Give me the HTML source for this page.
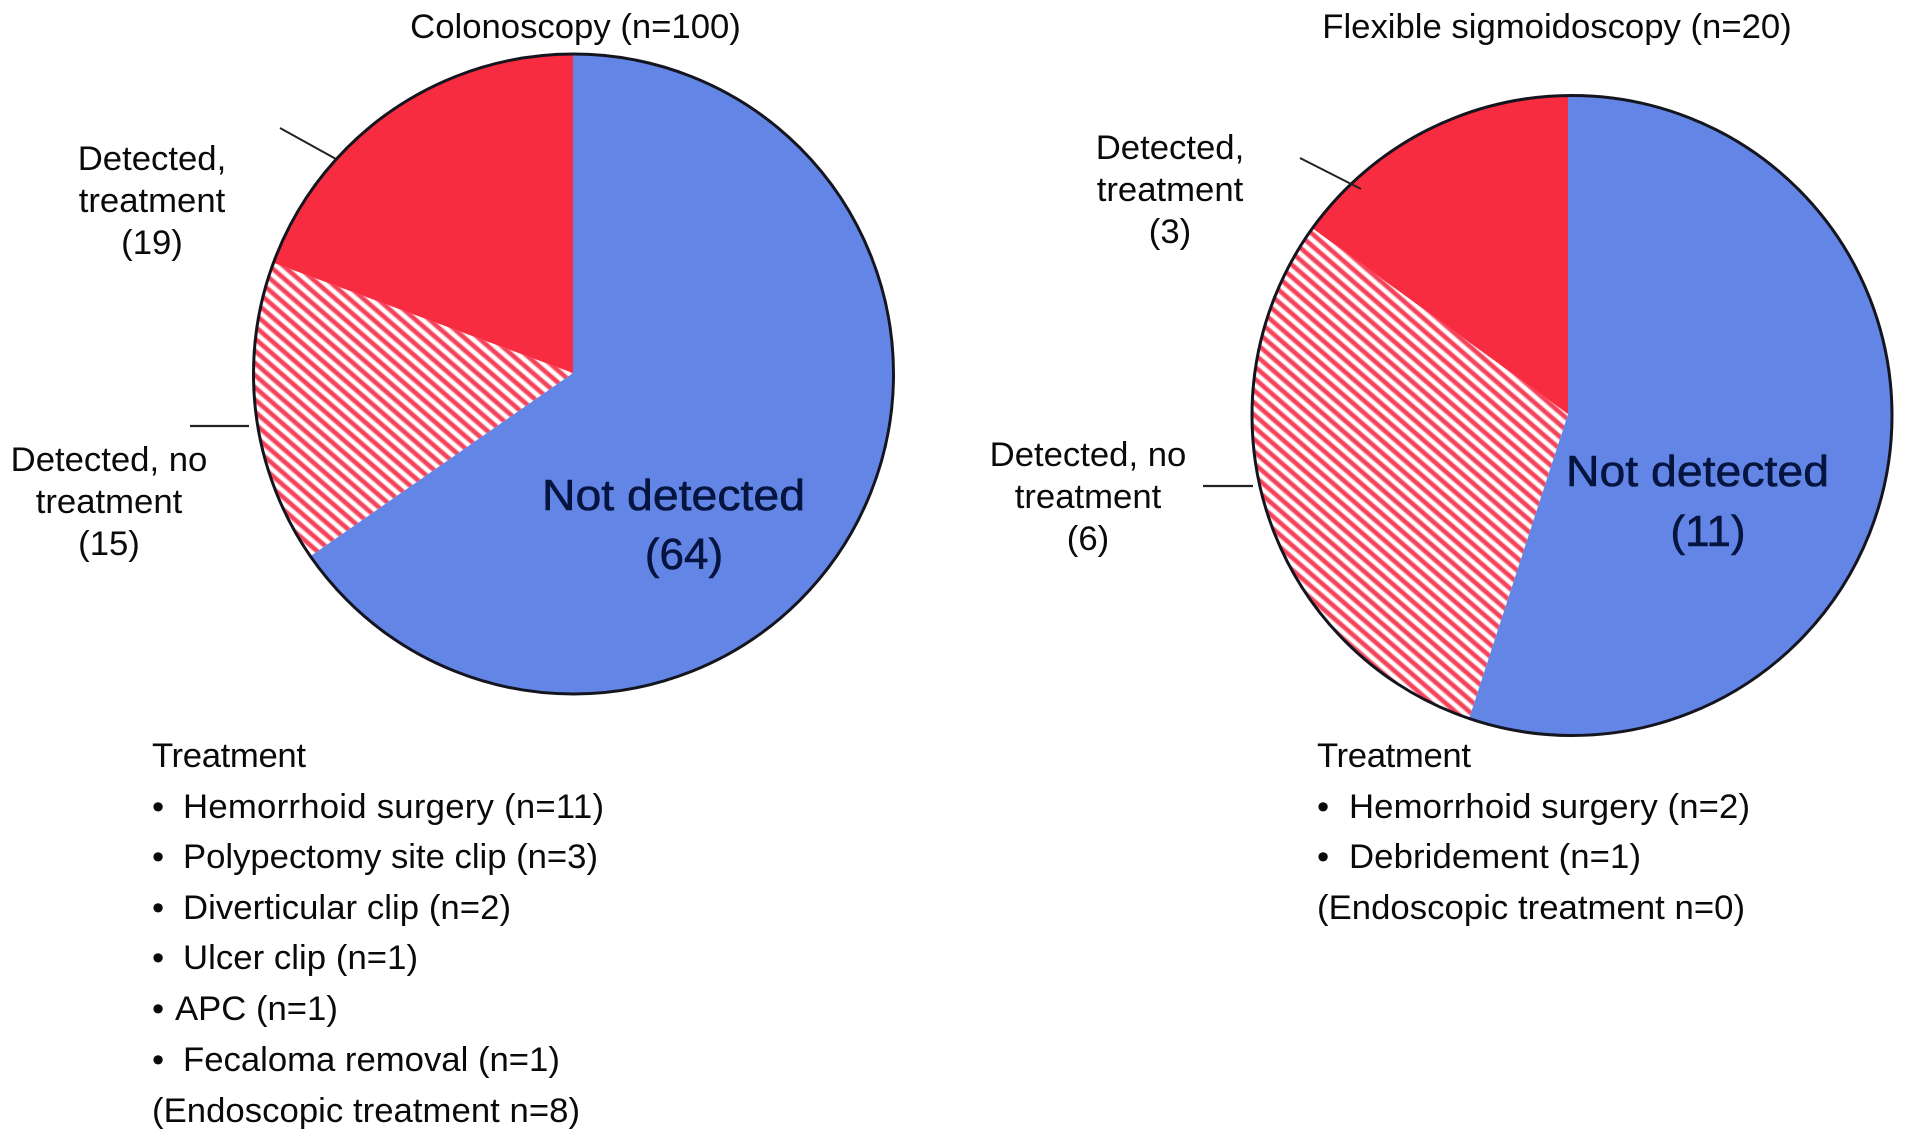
<!DOCTYPE html>
<html lang="en">
<head>
<meta charset="utf-8">
<title>Detection and treatment pie charts</title>
<style>
  html, body { margin: 0; padding: 0; background: #fff; }
  svg { display: block; font-family: "Liberation Sans", Arial, sans-serif; }
  text { fill: #0a0a0a; font-size: 34.7px; }
  .big { font-size: 44px; fill: #05153f; stroke: #05153f; stroke-width: 0.6px; }
</style>
</head>
<body>
<svg id="chart" xmlns="http://www.w3.org/2000/svg" width="1914" height="1141" viewBox="0 0 1914 1141">
  <defs>
    <linearGradient id="stripe" x1="0" y1="0" x2="0" y2="1">
      <stop offset="0" stop-color="#ffffff"></stop>
      <stop offset="0.24" stop-color="#ffffff"></stop>
      <stop offset="0.45" stop-color="#f4425a"></stop>
      <stop offset="0.74" stop-color="#f4425a"></stop>
      <stop offset="0.96" stop-color="#ffffff"></stop>
      <stop offset="1" stop-color="#ffffff"></stop>
    </linearGradient>
    <pattern id="hatch" patternUnits="userSpaceOnUse" width="9.2" height="9.2" patternTransform="rotate(41)">
      <rect width="9.2" height="9.2" fill="url(#stripe)"></rect>
    </pattern>
  </defs>
  <rect width="1914" height="1141" fill="#fff"></rect>

  <text x="575.5" y="38" text-anchor="middle">Colonoscopy (n=100)</text>
  <text x="1557" y="38" text-anchor="middle">Flexible sigmoidoscopy (n=20)</text>

  <g id="pies"></g>

  <line x1="280" y1="128" x2="336" y2="159" stroke="#222" stroke-width="2"></line>
  <line x1="190" y1="426" x2="249" y2="426" stroke="#222" stroke-width="2.2"></line>
  <line x1="1300" y1="158" x2="1361" y2="189" stroke="#222" stroke-width="2"></line>
  <line x1="1203" y1="486" x2="1253" y2="486" stroke="#222" stroke-width="2.2"></line>

  <g text-anchor="middle">
    <text x="152" y="170">Detected,</text>
    <text x="152" y="212">treatment</text>
    <text id="c-treat" x="152" y="254"></text>
  </g>
  <g text-anchor="middle">
    <text x="109" y="471">Detected, no</text>
    <text x="109" y="513">treatment</text>
    <text id="c-notreat" x="109" y="555"></text>
  </g>
  <g text-anchor="middle">
    <text x="1170" y="159">Detected,</text>
    <text x="1170" y="201">treatment</text>
    <text id="s-treat" x="1170" y="243"></text>
  </g>
  <g text-anchor="middle">
    <text x="1088" y="466">Detected, no</text>
    <text x="1088" y="508">treatment</text>
    <text id="s-notreat" x="1088" y="550"></text>
  </g>

  <g>
    <text class="big" x="542" y="510" textLength="263" lengthAdjust="spacingAndGlyphs">Not detected</text>
    <text class="big" id="c-none" x="684" y="569" text-anchor="middle"></text>
  </g>
  <g>
    <text class="big" x="1566" y="486" textLength="263" lengthAdjust="spacingAndGlyphs">Not detected</text>
    <text class="big" id="s-none" x="1708" y="546" text-anchor="middle"></text>
  </g>

  <g>
    <text x="152" y="767" textLength="154" lengthAdjust="spacing">Treatment</text>
    <text x="152" y="818">•</text><text x="183" y="818" textLength="421" lengthAdjust="spacing">Hemorrhoid surgery (n=11)</text>
    <text x="152" y="868">•</text><text x="183" y="868" textLength="415" lengthAdjust="spacing">Polypectomy site clip (n=3)</text>
    <text x="152" y="919">•</text><text x="183" y="919" textLength="328" lengthAdjust="spacing">Diverticular clip (n=2)</text>
    <text x="152" y="969">•</text><text x="183" y="969" textLength="235" lengthAdjust="spacing">Ulcer clip (n=1)</text>
    <text x="152" y="1020">•</text><text x="175" y="1020">APC (n=1)</text>
    <text x="152" y="1071">•</text><text x="183" y="1071">Fecaloma removal (n=1)</text>
    <text x="152" y="1122" textLength="428" lengthAdjust="spacing">(Endoscopic treatment n=8)</text>
  </g>
  <g>
    <text x="1317" y="767" textLength="154" lengthAdjust="spacing">Treatment</text>
    <text x="1317" y="818">•</text><text x="1349" y="818" textLength="401" lengthAdjust="spacing">Hemorrhoid surgery (n=2)</text>
    <text x="1317" y="868">•</text><text x="1349" y="868" textLength="292" lengthAdjust="spacing">Debridement (n=1)</text>
    <text x="1317" y="919" textLength="428" lengthAdjust="spacing">(Endoscopic treatment n=0)</text>
  </g>
</svg>
<script>
// Counts per category: not detected, detected no treatment, detected treatment
var colonoscopyValues = [64, 15, 19];
var sigmoidoscopyValues = [11, 6, 3];
var sliceKeys = ['not-detected', 'detected-no-treatment', 'detected-treatment'];
var sliceFills = ['#6385e6', 'url(#hatch)', '#f82c40'];

var SVG_NS = 'http://www.w3.org/2000/svg';
var piesLayer = document.getElementById('pies');

function angleFor(cumulative, total) {
  return cumulative / total * Math.PI * 2;
}
function polar(cx, cy, r, a) {
  return [cx + r * Math.sin(a), cy - r * Math.cos(a)];
}
function drawPie(name, values, cx, cy, ax, ay, r) {
  var total = values.reduce(function (s, v) { return s + v; }, 0);
  var clipId = name + '-clip';
  var defs = document.querySelector('defs');
  var clip = document.createElementNS(SVG_NS, 'clipPath');
  clip.setAttribute('id', clipId);
  var clipCircle = document.createElementNS(SVG_NS, 'circle');
  clipCircle.setAttribute('cx', cx);
  clipCircle.setAttribute('cy', cy);
  clipCircle.setAttribute('r', r);
  clip.appendChild(clipCircle);
  defs.appendChild(clip);

  var group = document.createElementNS(SVG_NS, 'g');
  
  
  group.setAttribute('clip-path', 'url(#' + clipId + ')');

  var cumulative = 0;
  var far = r * 2.2;
  values.forEach(function (v, i) {
    var a0 = angleFor(cumulative, total);
    var a1 = angleFor(cumulative + v, total);
    cumulative += v;
    var pts = [[ax, ay]];
    var steps = Math.max(2, Math.ceil((a1 - a0) / (Math.PI / 8)));
    for (var k = 0; k <= steps; k++) {
      pts.push(polar(ax, ay, far, a0 + (a1 - a0) * k / steps));
    }
    var slice = document.createElementNS(SVG_NS, 'polygon');
    slice.setAttribute('points', pts.map(function (p) { return p[0].toFixed(2) + ',' + p[1].toFixed(2); }).join(' '));
    slice.setAttribute('fill', sliceFills[i]);
    
    
    group.appendChild(slice);
  });
  piesLayer.appendChild(group);

  var outline = document.createElementNS(SVG_NS, 'circle');
  outline.setAttribute('cx', cx);
  outline.setAttribute('cy', cy);
  outline.setAttribute('r', r);
  outline.setAttribute('fill', 'none');
  outline.setAttribute('stroke', '#15151f');
  outline.setAttribute('stroke-width', '3');
  
  
  piesLayer.appendChild(outline);
}

drawPie('colonoscopy', colonoscopyValues, 573.5, 374, 573, 373, 320);
drawPie('sigmoidoscopy', sigmoidoscopyValues, 1572, 415.5, 1568, 414, 320);

document.getElementById('c-none').textContent = '(' + colonoscopyValues[0] + ')';
document.getElementById('c-notreat').textContent = '(' + colonoscopyValues[1] + ')';
document.getElementById('c-treat').textContent = '(' + colonoscopyValues[2] + ')';
document.getElementById('s-none').textContent = '(' + sigmoidoscopyValues[0] + ')';
document.getElementById('s-notreat').textContent = '(' + sigmoidoscopyValues[1] + ')';
document.getElementById('s-treat').textContent = '(' + sigmoidoscopyValues[2] + ')';
</script>
</body>
</html>
